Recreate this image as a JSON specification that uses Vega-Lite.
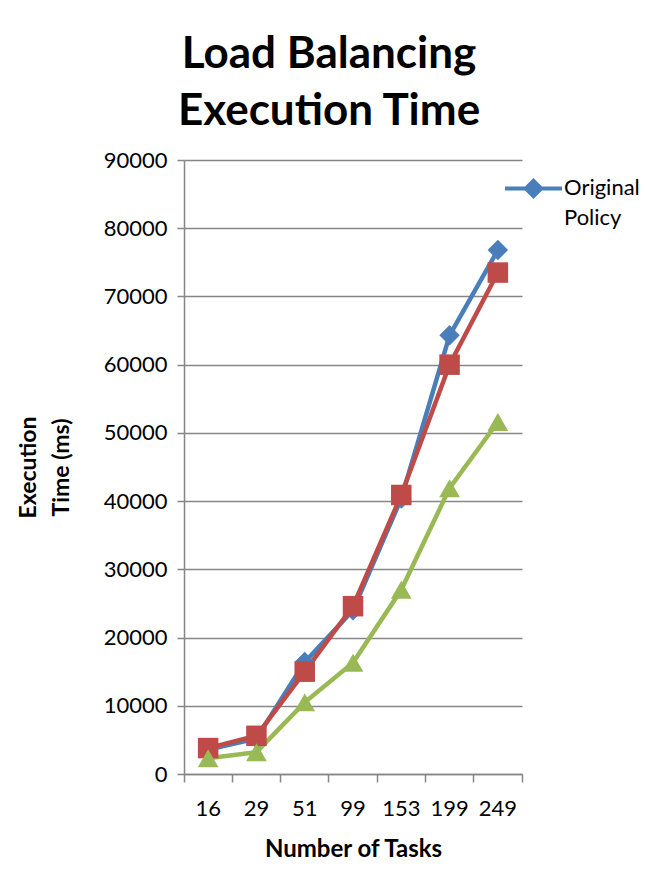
{
  "$schema": "https://vega.github.io/schema/vega-lite/v6.json",
  "width": 338,
  "height": 614,
  "autosize": {"type": "none"},
  "padding": {"left": 184, "top": 160, "right": 123, "bottom": 106},
  "background": "white",
  "title": {
    "text": ["Load Balancing", "Execution Time"],
    "font": "Lato",
    "fontSize": 44,
    "fontWeight": "bold",
    "color": "black",
    "anchor": "middle",
    "dx": -24,
    "offset": 15,
    "lineHeight": 57
  },
  "config": {
    "view": {"stroke": null},
    "font": "Lato"
  },
  "data": {
    "values": [
      {"series": "Original Policy", "tasks": 16, "time": 3600},
      {"series": "Original Policy", "tasks": 29, "time": 5200},
      {"series": "Original Policy", "tasks": 51, "time": 16400},
      {"series": "Original Policy", "tasks": 99, "time": 24000},
      {"series": "Original Policy", "tasks": 153, "time": 40400},
      {"series": "Original Policy", "tasks": 199, "time": 64300},
      {"series": "Original Policy", "tasks": 249, "time": 76800},
      {"series": "Policy 2", "tasks": 16, "time": 3800},
      {"series": "Policy 2", "tasks": 29, "time": 5600},
      {"series": "Policy 2", "tasks": 51, "time": 15000},
      {"series": "Policy 2", "tasks": 99, "time": 24600},
      {"series": "Policy 2", "tasks": 153, "time": 40900},
      {"series": "Policy 2", "tasks": 199, "time": 60000},
      {"series": "Policy 2", "tasks": 249, "time": 73500},
      {"series": "Policy 3", "tasks": 16, "time": 2300},
      {"series": "Policy 3", "tasks": 29, "time": 3200},
      {"series": "Policy 3", "tasks": 51, "time": 10500},
      {"series": "Policy 3", "tasks": 99, "time": 16300},
      {"series": "Policy 3", "tasks": 153, "time": 27000},
      {"series": "Policy 3", "tasks": 199, "time": 41900},
      {"series": "Policy 3", "tasks": 249, "time": 51600}
    ]
  },
  "encoding": {
    "x": {
      "field": "tasks",
      "type": "ordinal",
      "scale": {"type": "band", "paddingInner": 0, "paddingOuter": 0},
      "axis": {
        "title": "Number of Tasks",
        "titleFont": "Lato",
        "titleFontSize": 24,
        "titleFontWeight": "bold",
        "titleColor": "black",
        "titlePadding": 18,
        "labelAngle": 0,
        "labelFont": "Lato",
        "labelFontSize": 22,
        "labelColor": "black",
        "labelPadding": 16,
        "bandPosition": 1,
        "tickExtra": true,
        "domainColor": "#868686",
        "domainWidth": 1.5,
        "tickColor": "#868686",
        "tickWidth": 1.5,
        "tickSize": 8,
        "grid": false
      }
    },
    "y": {
      "field": "time",
      "type": "quantitative",
      "scale": {"domain": [0, 90000], "nice": false},
      "axis": {
        "values": [0, 10000, 20000, 30000, 40000, 50000, 60000, 70000, 80000, 90000],
        "format": "d",
        "title": ["Execution", "Time (ms)"],
        "titleFont": "Lato",
        "titleFontSize": 23,
        "titleFontWeight": "bold",
        "titleColor": "black",
        "titleX": -156,
        "titleY": 307,
        "titleAlign": "center",
        "titleBaseline": "middle",
        "titleLineHeight": 33,
        "labelFont": "Lato",
        "labelFontSize": 22,
        "labelColor": "black",
        "labelPadding": 10,
        "domainColor": "#868686",
        "domainWidth": 1.5,
        "tickColor": "#868686",
        "tickWidth": 1.5,
        "tickSize": 7,
        "grid": true,
        "gridColor": "#868686",
        "gridWidth": 1.5
      }
    },
    "color": {
      "field": "series",
      "type": "nominal",
      "scale": {
        "domain": ["Original Policy", "Policy 2", "Policy 3"],
        "range": ["#4A7EBB", "#BE4B48", "#98B954"]
      },
      "legend": {
        "values": ["Original Policy"],
        "title": null,
        "orient": "none",
        "legendX": 319,
        "legendY": -2,
        "labelExpr": "split(datum.label, ' ')",
        "labelFont": "Lato",
        "labelFontSize": 22,
        "labelColor": "black",
        "labelBaseline": "alphabetic",
        "labelOffset": 0,
        "labelLimit": 300,
        "symbolType": "M-1,0L1,0M0,-0.27L0.27,0L0,0.27L-0.27,0Z",
        "symbolSize": 3249,
        "symbolStrokeWidth": 4,
        "symbolFillColor": "#4A7EBB",
        "symbolStrokeColor": "#4A7EBB",
        "encode": {
          "symbols": {
            "update": {
              "shape": {"value": "M-1,0L1,0M0,-0.27L0.27,0L0,0.27L-0.27,0Z"},
              "size": {"value": 3249},
              "fill": {"value": "#4A7EBB"},
              "stroke": {"value": "#4A7EBB"},
              "strokeWidth": {"value": 4},
              "opacity": {"value": 1}
            }
          },
          "labels": {
            "update": {"dy": {"value": 6}, "lineHeight": {"value": 30}}
          }
        }
      }
    }
  },
  "layer": [
    {
      "mark": {"type": "line", "strokeWidth": 4.5}
    },
    {
      "transform": [{"filter": "datum.series === 'Original Policy'"}],
      "mark": {"type": "point", "filled": true, "opacity": 1, "shape": "diamond", "size": 420}
    },
    {
      "transform": [{"filter": "datum.series === 'Policy 2'"}],
      "mark": {"type": "point", "filled": true, "opacity": 1, "shape": "square", "size": 420}
    },
    {
      "transform": [{"filter": "datum.series === 'Policy 3'"}],
      "mark": {"type": "point", "filled": true, "opacity": 1, "shape": "triangle-up", "size": 430}
    }
  ]
}
